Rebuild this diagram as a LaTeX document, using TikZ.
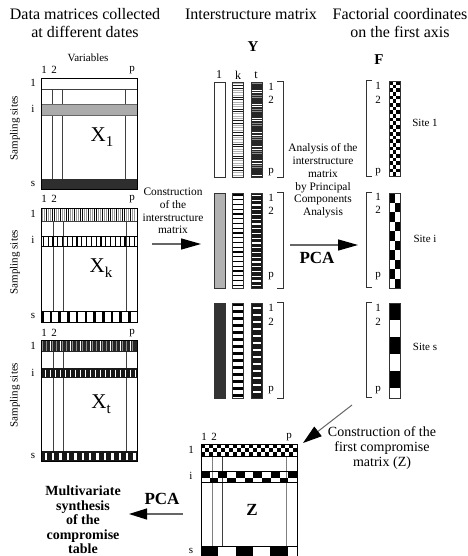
\documentclass[tikz,border=0pt]{standalone}
\usepackage{fontspec}
\setmainfont{Liberation Serif}
\usetikzlibrary{arrows.meta}
\begin{document}
\begin{tikzpicture}[x=1pt,y=-1pt,
  ttl/.style={font=\fontsize{16}{18.5}\selectfont, align=center, inner sep=0},
  sm/.style={font=\fontsize{11}{12}\selectfont, inner sep=0},
  lab/.style={font=\fontsize{12}{13}\selectfont, inner sep=0},
  note/.style={font=\fontsize{11.4}{12.8}\selectfont, align=center, inner sep=0},
  notebig/.style={font=\fontsize{14}{15}\selectfont, align=center, inner sep=0},
  synth/.style={font=\bfseries\fontsize{14}{14.6}\selectfont, align=center, inner sep=0},
  pca/.style={font=\bfseries\fontsize{17}{18}\selectfont, inner sep=0},
  bold/.style={font=\bfseries\fontsize{15}{16}\selectfont, inner sep=0},
  mlab/.style={font=\fontsize{21}{22}\selectfont, inner sep=0},
  mbox/.style={draw=black, line width=0.8, minimum width=96, minimum height=#1, anchor=north west, inner sep=0},
  ybox/.style={draw=black!80, line width=0.8, minimum width=11, minimum height=95, anchor=north west, inner sep=0},
  grid/.style={draw=black!75, line width=0.7},
  brk/.style={draw=black!80, line width=0.8},
  arr/.style={draw=black!60, line width=1.3, -{Triangle[length=20pt,width=11pt,black]}},
]
\useasboundingbox (0,0) rectangle (467,556);
\fill[white] (0,0) rectangle (467,556);

% ---------- titles ----------
\node[ttl] (t1) at (85,23) {Data matrices collected\\at different dates};
\node[ttl] (t2) at (251,14) {Interstructure matrix};
\node[ttl] (t3) at (400,23) {Factorial coordinates\\on the first axis};
\node[bold] (Ylab) at (253,47) {Y};
\node[bold] (Flab) at (379,60) {F};

% ---------- X1 ----------
\node[sm] (var) at (88,58) {Variables};
\draw[grid] (52,89) -- (52,179) (62,89) -- (62,179) (125,89) -- (125,179);
\draw[grid] (41,89) -- (137,89);
\filldraw[fill=black!33, draw=black!60, line width=0.7] (41,104) rectangle (137,115);
\fill[black!82] (41,179) rectangle (137,189);
\node[mbox=111] (X1) at (41,78) {};
\node[mlab] (X1t) at (102,137) {X\raisebox{-0.5ex}{\fontsize{15}{15}\selectfont 1}};
\node[sm] (a1) at (44,70) {1};
\node[sm] (a2) at (54,70) {2};
\node[sm] (ap) at (132,70) {p};
\node[sm] (r1a) at (33,83) {1};
\node[sm] (ria) at (33,109) {i};
\node[sm] (rsa) at (33,184) {s};
\node[sm, rotate=90] (ssa) at (15,128) {Sampling sites};

% ---------- Xk ----------
\draw[grid] (53,221) -- (53,311) (63,221) -- (63,311) (126,221) -- (126,311);
\draw[grid] (41,221) -- (137,221);
\foreach \i in {0,...,46}{
  \pgfmathtruncatemacro\sh{mod(\i*37+11,7)<3 ? 95 : 40}
  \draw[black!\sh, line width=0.9] ({42+\i*2},208) -- ({42+\i*2},221);
}
\draw[line width=0.7] (41,236) rectangle (137,246);
\foreach \i in {0,...,19}{
  \draw[line width=1.1] ({43.4+\i*4.8},236) -- ++(0,10);
}
\draw[line width=0.7] (41,311) -- (137,311);
\foreach \i in {0,...,10}{
  \fill ({41+\i*8.7},311) rectangle ++(2.6,11);
}
\node[mbox=114] (Xk) at (41,208) {};
\node[mlab] (Xkt) at (101,268) {X\raisebox{-0.5ex}{\fontsize{15}{15}\selectfont k}};
\node[sm] (b1) at (44,199) {1};
\node[sm] (b2) at (54,199) {2};
\node[sm] (bp) at (132,199) {p};
\node[sm] (r1b) at (33,214) {1};
\node[sm] (rib) at (33,240) {i};
\node[sm] (rsb) at (33,316) {s};
\node[sm, rotate=90] (ssb) at (15,262) {Sampling sites};

% ---------- Xt ----------
\draw[grid] (53,352) -- (53,451) (63,352) -- (63,451) (126,352) -- (126,451);
\fill[black!85] (41,340) rectangle (137,352);
\foreach \i in {0,...,46}{
  \pgfmathtruncatemacro\sh{mod(\i*23+5,5)<2 ? 45 : (mod(\i*23+5,5)<3 ? 0 : 85)}
  \draw[black!\sh, line width=0.9] ({42+\i*2},341) -- ({42+\i*2},351);
}
\fill[black!90] (41,368) rectangle (137,378);
\foreach \i in {0,...,18}{
  \draw[white, line width=1] ({45+\i*5},369.5) -- ++(0,7);
}
\fill[black!90] (41,451) rectangle (137,461);
\foreach \i in {0,...,12}{
  \fill[white] ({44.5+\i*7.4},452.5) rectangle ++(2.4,7);
}
\node[mbox=121] (Xt) at (41,340) {};
\node[mlab] (Xtt) at (101,404) {X\raisebox{-0.5ex}{\fontsize{15}{15}\selectfont t}};
\node[sm] (c1) at (44,333) {1};
\node[sm] (c2) at (54,333) {2};
\node[sm] (cp) at (132,333) {p};
\node[sm] (r1c) at (33,346) {1};
\node[sm] (ric) at (33,373) {i};
\node[sm] (rsc) at (33,456) {s};
\node[sm, rotate=90] (ssc) at (15,395) {Sampling sites};

% ---------- construction arrow ----------
\node[note] (cons) at (173,211) {Construction\\of the\\interstructure\\matrix};
\coordinate (ca) at (152,244);
\coordinate (cb) at (201,244);
\draw[arr] (ca) -- (cb);

% ---------- Y block 1 ----------
\node[lab] (yl1) at (219,75) {1};
\node[lab] (ylk) at (238,75) {k};
\node[lab] (ylt) at (256,75) {t};
\foreach \i in {0,...,39}{
  \pgfmathtruncatemacro\sh{mod(\i*29+7,5)<2 ? 90 : 30}
  \draw[black!\sh, line width=0.9] (232,{83.3+\i*2.35}) -- (243,{83.3+\i*2.35});
}
\fill[black!85] (251,82) rectangle (262,177);
\foreach \i in {0,...,39}{
  \pgfmathtruncatemacro\sh{mod(\i*31+3,6)<2 ? 0 : (mod(\i*31+3,6)<4 ? 45 : 85)}
  \draw[black!\sh, line width=0.9] (251,{83.3+\i*2.35}) -- (262,{83.3+\i*2.35});
}
\node[ybox] (Y11) at (214,82) {};
\node[ybox] (Y1k) at (232,82) {};
\node[ybox] (Y1t) at (251,82) {};
\draw[brk] (277,81) -- (283,81) -- (283,177) -- (277,177);
\node[sm] (y1a) at (271,87) {1};
\node[sm] (y1b) at (271,100) {2};
\node[sm] (y1p) at (271,172) {p};

% ---------- Y block 2 ----------
\fill[black!30] (214,193) rectangle (225,288);
\foreach \i in {0,...,19}{
  \draw[line width=1.3] (232,{195+\i*4.75}) -- (243,{195+\i*4.75});
}
\fill[black!90] (251,193) rectangle (262,288);
\foreach \i in {0,...,19}{
  \draw[white, line width=1.2] (252,{195.5+\i*4.75}) -- (261,{195.5+\i*4.75});
}
\node[ybox] (Y21) at (214,193) {};
\node[ybox] (Y2k) at (232,193) {};
\node[ybox] (Y2t) at (251,193) {};
\draw[brk] (277,192) -- (283,192) -- (283,288) -- (277,288);
\node[sm] (y2a) at (271,198) {1};
\node[sm] (y2b) at (271,211) {2};
\node[sm] (y2p) at (271,276) {p};

% ---------- Y block 3 ----------
\fill[black!80] (214,303) rectangle (225,398);
\foreach \i in {0,...,13}{
  \fill (232,{303+\i*7}) rectangle ++(11,2.6);
}
\fill[black!90] (251,303) rectangle (262,398);
\foreach \i in {0,...,12}{
  \fill[white] (252.5,{307+\i*7}) rectangle ++(8,2.2);
}
\node[ybox] (Y31) at (214,303) {};
\node[ybox] (Y3k) at (232,303) {};
\node[ybox] (Y3t) at (251,303) {};
\draw[brk] (277,302) -- (283,302) -- (283,398) -- (277,398);
\node[sm] (y3a) at (271,308) {1};
\node[sm] (y3b) at (271,322) {2};
\node[sm] (y3p) at (271,390) {p};

% ---------- PCA arrow ----------
\node[note] (anal) at (323,181) {Analysis of the\\interstructure\\matrix\\by Principal\\Components\\Analysis};
\coordinate (pa) at (290,245);
\coordinate (pb) at (358,245);
\draw[arr] (pa) -- (pb);
\node[pca] (pcaR) at (317,258) {PCA};

% ---------- F site 1 ----------
\foreach \r in {0,...,25}{
  \foreach \c in {0,1,2}{
    \pgfmathtruncatemacro\od{mod(\r+\c,2)}
    \ifnum\od=0 \fill ({389+\c*3.667},{81+\r*3.654}) rectangle ++(3.667,3.654); \fi
  }
}
\node[ybox] (F1) at (389,81) {};
\draw[brk] (372,80) -- (366,80) -- (366,176) -- (372,176);
\node[sm] (f1a) at (378,86) {1};
\node[sm] (f1b) at (378,100) {2};
\node[sm] (f1p) at (378,172) {p};
\node[sm] (s1) at (425,123) {Site 1};

% ---------- F site i ----------
\foreach \r in {0,...,9}{
  \foreach \c in {0,1}{
    \pgfmathtruncatemacro\od{mod(\r+\c,2)}
    \ifnum\od=0 \fill ({389+\c*5.5},{193+\r*9.5}) rectangle ++(5.5,9.5); \fi
  }
}
\node[ybox] (Fi) at (389,193) {};
\draw[brk] (372,192) -- (366,192) -- (366,287) -- (372,287);
\node[sm] (fia) at (378,197) {1};
\node[sm] (fib) at (378,210) {2};
\node[sm] (fip) at (378,276) {p};
\node[sm] (si) at (425,239) {Site i};

% ---------- F site s ----------
\fill (389,303) rectangle (400,320);
\fill (389,337) rectangle (400,354);
\fill (389,371) rectangle (400,388);
\node[ybox] (Fs) at (389,303) {};
\draw[brk] (372,302) -- (366,302) -- (366,397) -- (372,397);
\node[sm] (fsa) at (378,308) {1};
\node[sm] (fsb) at (378,322) {2};
\node[sm] (fsp) at (378,390) {p};
\node[sm] (ss) at (425,347) {Site s};

% ---------- diagonal arrow ----------
\coordinate (da) at (352,405);
\coordinate (db) at (303,443);
\draw[draw=black!60, line width=1, -{Triangle[length=19pt,width=12pt,black]}] (da) -- (db);
\node[notebig] (comp) at (382,448) {Construction of the\\first compromise\\matrix (Z)};

% ---------- Z ----------
\draw[draw=black!50, line width=0.9] (212,456) -- (212,546) (286,456) -- (286,546);
\draw[grid] (222,456) -- (222,546);
\foreach \r in {0,1,2}{
  \foreach \c in {0,...,23}{
    \pgfmathtruncatemacro\od{mod(\r+\c,2)}
    \ifnum\od=0 \fill ({201+\c*4},{444+\r*4}) rectangle ++(4,4); \fi
  }
}
\draw[line width=0.7] (201,456) -- (297,456);
\draw[line width=0.7] (201,471) rectangle (297,482);
\foreach \c in {0,...,10}{
  \pgfmathtruncatemacro\od{mod(\c,2)}
  \ifnum\od=0 \fill ({201+\c*8.73},471) rectangle ++(8.73,7);
  \else \fill ({201+\c*8.73},478) rectangle ++(8.73,4); \fi
}
\draw[line width=0.7] (201,546) -- (297,546);
\fill (201,546) rectangle (218,556);
\fill (236,546) rectangle (253,556);
\fill (270,546) rectangle (288,556);
\node[mbox=112] (Z) at (201,444) {};
\node[font=\bfseries\fontsize{17}{18}\selectfont, inner sep=0] (Zt) at (252,510) {Z};
\node[sm] (z1) at (204,437) {1};
\node[sm] (z2) at (214,437) {2};
\node[sm] (zp) at (289,437) {p};
\node[sm] (zr1) at (191,450) {1};
\node[sm] (zri) at (191,476) {i};
\node[sm] (zrs) at (191,551) {s};

% ---------- final PCA ----------
\coordinate (la) at (183,514);
\coordinate (lb) at (129,514);
\draw[draw=black!60, line width=1.3, -{Triangle[length=18pt,width=11pt,black]}] (la) -- (lb);
\node[pca] (pcaL) at (162,499) {PCA};
\node[synth] (syn) at (83,520) {Multivariate\\synthesis\\of the\\compromise\\table};
\end{tikzpicture}
\end{document}
